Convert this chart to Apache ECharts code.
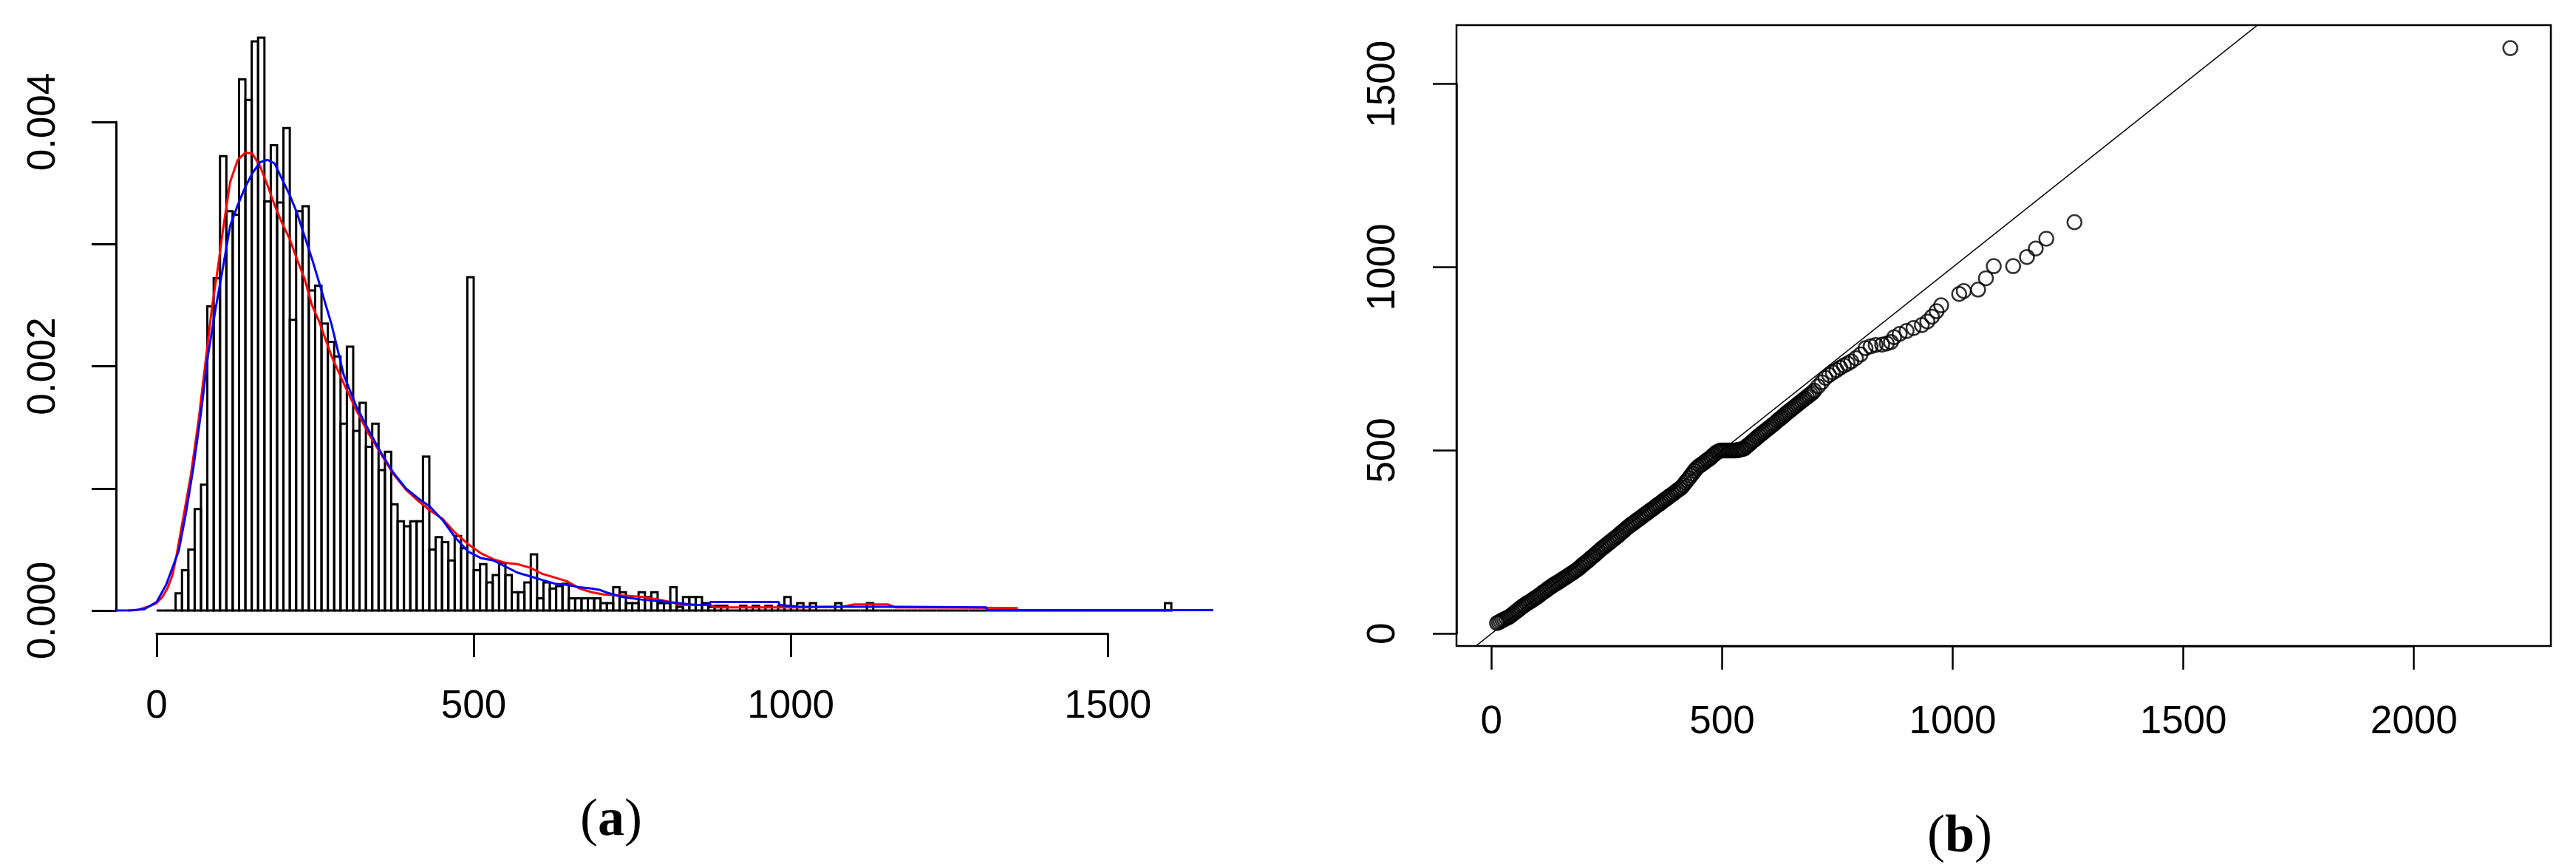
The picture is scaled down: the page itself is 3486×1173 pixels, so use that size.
<!DOCTYPE html>
<html>
<head>
<meta charset="utf-8">
<script src="https://cdn.jsdelivr.net/npm/echarts@6/dist/echarts.min.js"></script>
<style>
html,body{margin:0;padding:0;background:#fff;}
#c{width:3486px;height:1173px;}
</style>
</head>
<body>
<div id="c"></div>
<script>
// ---------------- DATA ----------------
// (a) histogram: bins of width 10 starting at 0, density in units of 1e-3
const histBinStart = 0;
const histBinWidth = 10;
const DENS_UNIT = 0.001;
const histDensity = [
  0,0,0,0.14,0.33,0.50,0.83,1.03,2.49,2.72,
  3.72,3.27,3.24,4.35,4.18,4.66,4.69,3.35,3.81,3.34,
  3.95,2.38,3.27,3.31,2.62,2.66,2.35,2.20,2.08,1.53,
  2.16,1.47,1.70,1.34,1.53,1.15,1.30,0.87,0.73,0.69,
  0.73,0.73,1.26,0.50,0.60,0.56,0.41,0.61,0.51,2.73,
  0.33,0.38,0.23,0.29,0.39,0.29,0.15,0.15,0.23,0.46,
  0.10,0.23,0.18,0.20,0.22,0.10,0.10,0.10,0.10,0.10,
  0.06,0.06,0.19,0.15,0.06,0.06,0.15,0.11,0.15,0.06,
  0.06,0.19,0.03,0.11,0.11,0.11,0.06,0.03,0.04,0.04,
  0,0,0.04,0,0.04,0,0.04,0,0.04,0.11,
  0,0.06,0,0.06,0,0,0,0.06,0,0,
  0,0,0.06,0,0,0,0,0,0,0,
  0,0,0,0,0,0,0,0,0,0,
  0,0,0,0,0,0,0,0,0,0,
  0,0,0,0,0,0,0,0,0,0,
  0,0,0,0,0,0,0,0,0,0.06
];
// red density curve (x, density in 1e-3)
const redX = [-45,-30,-14,0,9,17,25,31,42,54,66,77,87,97,105,116,128,140,151,163,175,186,198,210,221,233,245,256,276,295,315,334,354,373,393,412,431,451,470,492,511,531,550,569,589,608,628,647,667,686,706,745,768,791,810,826,873,881,1013,1080,1100,1153,1165,1300,1358];
const redY = [0,0.005,0.03,0.06,0.11,0.18,0.29,0.44,0.76,1.11,1.55,2.03,2.47,2.82,3.13,3.51,3.69,3.75,3.74,3.64,3.48,3.32,3.17,3.04,2.88,2.72,2.50,2.37,2.08,1.86,1.64,1.45,1.28,1.12,0.99,0.90,0.82,0.75,0.64,0.54,0.47,0.42,0.39,0.38,0.35,0.30,0.27,0.24,0.18,0.15,0.13,0.12,0.11,0.09,0.07,0.046,0.046,0.026,0.026,0.03,0.05,0.05,0.026,0.022,0.02];
// blue density curve
const blueX = [-64,-40,-20,0,15,35,46,58,70,81,93,105,116,128,140,151,163,175,186,198,210,221,233,245,256,276,295,315,334,354,373,393,412,431,451,472,492,511,531,550,569,589,608,628,647,667,686,698,708,721,735,764,807,850,872,873,981,982,1013,1176,1308,1310,1666];
const blueY = [0,0.002,0.01,0.07,0.21,0.49,0.79,1.17,1.62,2.09,2.47,2.82,3.15,3.32,3.47,3.58,3.67,3.69,3.66,3.53,3.40,3.26,3.07,2.88,2.69,2.34,1.93,1.67,1.48,1.29,1.13,1.00,0.92,0.85,0.74,0.59,0.48,0.43,0.41,0.36,0.31,0.28,0.25,0.22,0.21,0.19,0.18,0.17,0.15,0.13,0.11,0.09,0.07,0.046,0.046,0.07,0.07,0.046,0.032,0.03,0.026,0.003,0.003];
const histXTicks = [0, 500, 1000, 1500];
const histYTicks = [0, 0.001, 0.002, 0.003, 0.004];
const histYTickLabels = ['0.000', '', '0.002', '', '0.004'];

// (b) QQ plot points (x quantiles, y quantiles)
const qqX = [12,16,20,24,28,32,36,40,44,48,52,56,60,64,68,72,76,80,84,88,92,96,100,104,108,112,116,120,124,128,132,136,140,144,148,152,156,160,164,168,172,176,180,184,188,192,196,200,204,208,212,216,220,224,228,232,236,240,244,248,252,256,260,264,268,272,276,280,284,288,292,296,300,304,308,312,316,320,324,328,332,336,340,344,348,352,356,360,364,368,372,376,380,384,388,392,396,400,404,408,412,416,420,424,428,432,436,440,444,448,452,456,460,464,468,472,476,480,484,488,492,496,500,504,508,512,516,520,524,528,532,536,540,544,548,552,556,560,564,568,572,576,580,584,588,592,596,600,604,608,612,616,620,624,628,632,636,640,644,648,652,656,660,664,668,672,676,680,684,688,692,696,700,
  708,716,724,732,740,748,756,764,772,780,790,800,811,822,833,847,857,866,873,885,900,915,933,945,955,965,975,1014,1024,1055,1072,1089,1131,1161,1180,1203,1264,2209];
const qqY = [29,31,34,37,39,42,44,47,51,55,59,63,67,71,75,78,82,85,88,91,95,98,101,105,109,113,116,120,124,127,131,134,137,140,143,147,150,153,156,160,163,166,170,173,177,181,186,190,194,198,202,207,211,215,220,224,229,233,237,241,245,249,253,257,261,265,269,274,278,282,287,291,295,299,302,306,310,313,317,321,325,328,332,336,339,343,347,351,354,358,362,366,369,373,377,380,384,388,392,395,399,405,412,418,424,431,437,444,450,455,459,462,466,470,474,477,481,486,490,495,497,500,500,500,500,500,500,500,500,500,501,501,503,504,505,510,514,518,523,527,531,536,540,544,548,552,556,560,564,568,572,576,581,585,589,593,598,602,606,610,614,618,622,626,630,634,638,642,646,650,654,658,663,
  675,686,698,706,713,719,726,732,737,743,752,762,779,784,788,789,792,796,809,818,826,834,842,852,865,880,896,927,935,939,970,1003,1003,1028,1051,1078,1123,1598];
const qqLine = { intercept: 0, slope: 1 };
const qqXTicks = [0, 500, 1000, 1500, 2000];
const qqYTicks = [0, 500, 1000, 1500];
const captions = ['a', 'b'];

// ---------------- LAYOUT ----------------
const FONT = "'Liberation Sans', Arial, Helvetica, sans-serif";
const SERIF = "'Liberation Serif', 'Times New Roman', serif";
const LP = { left: 157, top: 20, right: 1640, bottom: 857 };   // plot region (a)
const RP = { left: 1971, top: 34, right: 3452, bottom: 874 };  // plot region (b)

// R-style 4% axis extension
function ext(lo, hi) { const r = hi - lo; return [lo - 0.04 * r, hi + 0.04 * r]; }
const [lxMin, lxMax] = ext(histBinStart, histBinStart + histBinWidth * histDensity.length);
const [lyMin, lyMax] = ext(0, Math.max(...histDensity) * DENS_UNIT);
const [rxMin, rxMax] = ext(Math.min(...qqX), Math.max(...qqX));
const [ryMin, ryMax] = ext(Math.min(...qqY), Math.max(...qqY));

function px(P, lo, hi, v) { return P.left + (v - lo) / (hi - lo) * (P.right - P.left); }
function py(P, lo, hi, v) { return P.bottom - (v - lo) / (hi - lo) * (P.bottom - P.top); }

const axLine = (w) => ({ show: true, onZero: false, lineStyle: { color: '#000', width: w } });
const axTick = (len, w) => ({ show: true, inside: false, length: len, lineStyle: { color: '#000', width: w } });
const hidden = (g) => ({ gridIndex: g, type: 'value', min: 0, max: 1, show: false });

// grids
const gLeftX0 = px(LP, lxMin, lxMax, histXTicks[0]);
const gLeftX1 = px(LP, lxMin, lxMax, histXTicks[histXTicks.length - 1]);
const gLeftY0 = py(LP, lyMin, lyMax, histYTicks[0]);
const gLeftY1 = py(LP, lyMin, lyMax, histYTicks[histYTicks.length - 1]);
const gRightX0 = px(RP, rxMin, rxMax, qqXTicks[0]);
const gRightX1 = px(RP, rxMin, rxMax, qqXTicks[qqXTicks.length - 1]);
const gRightY0 = py(RP, ryMin, ryMax, qqYTicks[0]);
const gRightY1 = py(RP, ryMin, ryMax, qqYTicks[qqYTicks.length - 1]);

const grids = [
  { left: LP.left, top: LP.top, width: LP.right - LP.left, height: LP.bottom - LP.top },
  { left: gLeftX0, top: LP.top, width: gLeftX1 - gLeftX0, height: LP.bottom - LP.top },
  { left: LP.left, top: gLeftY1, width: 20, height: gLeftY0 - gLeftY1 },
  { left: RP.left, top: RP.top, width: RP.right - RP.left, height: RP.bottom - RP.top,
    show: true, borderColor: '#000', borderWidth: 2.5, backgroundColor: 'rgba(0,0,0,0)' },
  { left: gRightX0, top: RP.top, width: gRightX1 - gRightX0, height: RP.bottom - RP.top },
  { left: RP.left, top: gRightY1, width: 20, height: gRightY0 - gRightY1 }
].map(g => Object.assign({ containLabel: false, outerBoundsMode: 'none' }, g));

const labelStyle = { fontSize: 53, fontFamily: FONT, color: '#000' };

const xAxes = [
  { gridIndex: 0, type: 'value', min: lxMin, max: lxMax, show: false },
  { gridIndex: 1, type: 'value', position: 'bottom', min: histXTicks[0], max: histXTicks[histXTicks.length - 1],
    interval: histXTicks[1] - histXTicks[0], axisLine: axLine(3), axisTick: axTick(32, 3),
    axisLabel: Object.assign({ margin: 73, formatter: v => String(Math.round(v)) }, labelStyle), splitLine: { show: false } },
  hidden(2),
  { gridIndex: 3, type: 'value', min: rxMin, max: rxMax, show: false },
  { gridIndex: 4, type: 'value', position: 'bottom', min: qqXTicks[0], max: qqXTicks[qqXTicks.length - 1],
    interval: qqXTicks[1] - qqXTicks[0], axisLine: axLine(2.5), axisTick: axTick(32, 2.5),
    axisLabel: Object.assign({ margin: 77, formatter: v => String(Math.round(v)) }, labelStyle), splitLine: { show: false } },
  hidden(5)
];
const yAxes = [
  { gridIndex: 0, type: 'value', min: lyMin, max: lyMax, show: false },
  hidden(1),
  { gridIndex: 2, type: 'value', position: 'left', min: histYTicks[0], max: histYTicks[histYTicks.length - 1],
    interval: histYTicks[1] - histYTicks[0], axisLine: axLine(3), axisTick: axTick(33, 3),
    axisLabel: Object.assign({ rotate: 90, margin: 71, formatter: v => {
      const i = Math.round((v - histYTicks[0]) / (histYTicks[1] - histYTicks[0]));
      return histYTickLabels[i] || '';
    } }, labelStyle), splitLine: { show: false } },
  { gridIndex: 3, type: 'value', min: ryMin, max: ryMax, show: false },
  hidden(4),
  { gridIndex: 5, type: 'value', position: 'left', min: qqYTicks[0], max: qqYTicks[qqYTicks.length - 1],
    interval: qqYTicks[1] - qqYTicks[0], axisLine: axLine(2.5), axisTick: axTick(32, 2.5),
    axisLabel: Object.assign({ rotate: 90, margin: 72, formatter: v => String(Math.round(v)) }, labelStyle), splitLine: { show: false } }
];

const histData = histDensity.map((d, k) => [histBinStart + k * histBinWidth, histBinStart + (k + 1) * histBinWidth, d * DENS_UNIT]);

const option = {
  animation: false,
  backgroundColor: '#fff',
  grid: grids,
  xAxis: xAxes,
  yAxis: yAxes,
  series: [
    { type: 'custom', xAxisIndex: 0, yAxisIndex: 0, silent: true, z: 2,
      data: histData, encode: { x: [0, 1], y: 2 },
      renderItem: (params, api) => {
        const p0 = api.coord([api.value(0), 0]);
        const p1 = api.coord([api.value(1), api.value(2)]);
        return { type: 'rect', shape: { x: p0[0], y: p1[1], width: p1[0] - p0[0], height: p0[1] - p1[1] },
          style: { fill: 'none', stroke: '#000', lineWidth: 3 } };
      } },
    { type: 'line', xAxisIndex: 0, yAxisIndex: 0, silent: true, z: 3, symbol: 'none', showSymbol: false,
      data: redX.map((x, i) => [x, redY[i] * DENS_UNIT]), lineStyle: { color: '#ff0000', width: 3 } },
    { type: 'line', xAxisIndex: 0, yAxisIndex: 0, silent: true, z: 4, symbol: 'none', showSymbol: false,
      data: blueX.map((x, i) => [x, blueY[i] * DENS_UNIT]), lineStyle: { color: '#0000ff', width: 3 } },
    { type: 'scatter', xAxisIndex: 3, yAxisIndex: 3, silent: true, z: 2, symbol: 'circle', symbolSize: 19,
      data: qqX.map((x, i) => [x, qqY[i]]),
      itemStyle: { color: 'rgba(0,0,0,0)', borderColor: '#000', borderWidth: 2.5 } },
    { type: 'line', xAxisIndex: 3, yAxisIndex: 3, silent: true, z: 3, symbol: 'none', showSymbol: false, clip: true,
      data: [[rxMin, qqLine.intercept + qqLine.slope * rxMin], [rxMax, qqLine.intercept + qqLine.slope * rxMax]],
      lineStyle: { color: '#000', width: 1.5 } }
  ],
  graphic: [
    { type: 'text', x: 827, y: 1111, style: { text: '{p|(}{b|' + captions[0] + '}{p|)}', align: 'center', verticalAlign: 'middle',
      rich: { p: { fontFamily: SERIF, fontSize: 72, fill: '#000' }, b: { fontFamily: SERIF, fontSize: 72, fontWeight: 'bold', fill: '#000' } } } },
    { type: 'text', x: 2652, y: 1133, style: { text: '{p|(}{b|' + captions[1] + '}{p|)}', align: 'center', verticalAlign: 'middle',
      rich: { p: { fontFamily: SERIF, fontSize: 72, fill: '#000' }, b: { fontFamily: SERIF, fontSize: 72, fontWeight: 'bold', fill: '#000' } } } }
  ]
};

const chart = echarts.init(document.getElementById('c'), null, { renderer: 'canvas', width: 3486, height: 1173 });
chart.setOption(option);
</script>
</body>
</html>
